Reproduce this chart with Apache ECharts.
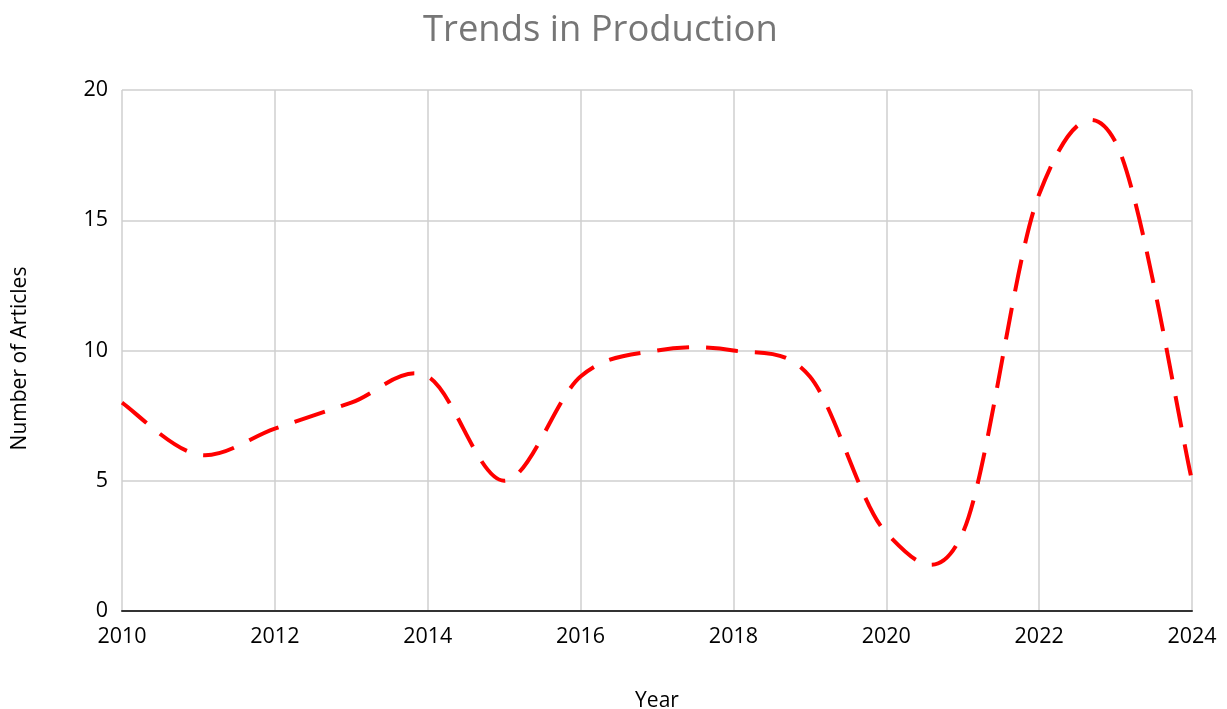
<!DOCTYPE html>
<html>
<head>
<meta charset="utf-8">
<title>Trends in Production</title>
<script src="https://cdn.jsdelivr.net/npm/echarts@6/dist/echarts.min.js"></script>
<style>
    html, body { margin: 0; padding: 0; background: #fff; }
    #trendch { width: 1227px; height: 709px; }
</style>
</head>
<body>
<div id="trendch"></div>
<script>
// data
var years = [2010, 2011, 2012, 2013, 2014, 2015, 2016, 2017, 2018, 2019, 2020, 2021, 2022, 2023, 2024];
var articles = [8, 6, 7, 8, 9, 5, 9, 10, 10, 9, 3, 3, 16, 18, 5];
var xTicks = [2010, 2012, 2014, 2016, 2018, 2020, 2022, 2024];
var yTicks = [0, 5, 10, 15, 20];

var points = [];
for (var i = 0; i < years.length; i++) {
    points.push([years[i], articles[i]]);
}

// office style smoothed line (catmull-rom through the data points),
// ECharts' own smooth clamps the overshoot so the curve is drawn here
function renderCurve(params, api) {
    if (params.dataIndex !== 0) {
        return null;
    }
    var pts = [];
    for (var k = 0; k < points.length; k++) {
        pts.push(api.coord(points[k]));
    }
    var d = 'M' + pts[0][0] + ' ' + pts[0][1];
    for (var k = 0; k < pts.length - 1; k++) {
        var p0 = pts[k - 1] || pts[k];
        var p1 = pts[k];
        var p2 = pts[k + 1];
        var p3 = pts[k + 2] || pts[k + 1];
        var c1x = p1[0] + (p2[0] - p0[0]) / 6;
        var c1y = p1[1] + (p2[1] - p0[1]) / 6;
        var c2x = p2[0] - (p3[0] - p1[0]) / 6;
        var c2y = p2[1] - (p3[1] - p1[1]) / 6;
        d += ' C' + c1x + ' ' + c1y + ' ' + c2x + ' ' + c2y + ' ' + p2[0] + ' ' + p2[1];
    }
    return {
        type: 'path',
        shape: { pathData: d },
        style: {
            fill: 'none',
            stroke: '#ff0000',
            lineWidth: 4,
            lineDash: [32, 17]
        }
    };
}

var trendch = echarts.init(document.getElementById('trendch'));
var option = {
    animation: false,
    textStyle: { fontFamily: 'Open Sans' },
    title: {
        text: 'Trends in Production',
        left: 418,
        top: 8,
        textStyle: {
            fontFamily: 'Open Sans',
            fontSize: 36.4,
            fontWeight: 'normal',
            color: '#767676'
        }
    },
    grid: {
        left: 122,
        right: 35,
        top: 90,
        bottom: 98,
        containLabel: false,
        outerBoundsMode: 'none'
    },
    xAxis: {
        type: 'value',
        min: xTicks[0],
        max: xTicks[xTicks.length - 1],
        interval: 2,
        name: 'Year',
        nameLocation: 'middle',
        nameGap: 80,
        nameTextStyle: { fontSize: 21, color: '#000' },
        axisLine: { show: true, onZero: false, lineStyle: { color: '#333', width: 2 } },
        axisTick: { show: false },
        axisLabel: {
            fontSize: 21.5,
            color: '#000',
            margin: 15,
            formatter: function (v) { return String(v); }
        },
        splitLine: { show: true, lineStyle: { color: '#cfcfcf', width: 1.5 } }
    },
    yAxis: {
        type: 'value',
        min: yTicks[0],
        max: yTicks[yTicks.length - 1],
        interval: 5,
        name: 'Number of Articles',
        nameLocation: 'middle',
        nameGap: 91,
        nameTextStyle: { fontSize: 21, color: '#000', padding: [0, 16, 0, 0] },
        axisLine: { show: false },
        axisTick: { show: false },
        axisLabel: { fontSize: 21.5, color: '#000', margin: 14 },
        splitLine: { show: true, lineStyle: { color: '#cfcfcf', width: 1.5 } }
    },
    series: [
        {
            name: 'Number of Articles',
            type: 'custom',
            data: points,
            encode: { x: 0, y: 1 },
            clip: false,
            renderItem: renderCurve
        }
    ]
};
trendch.setOption(option);
</script>
</body>
</html>
